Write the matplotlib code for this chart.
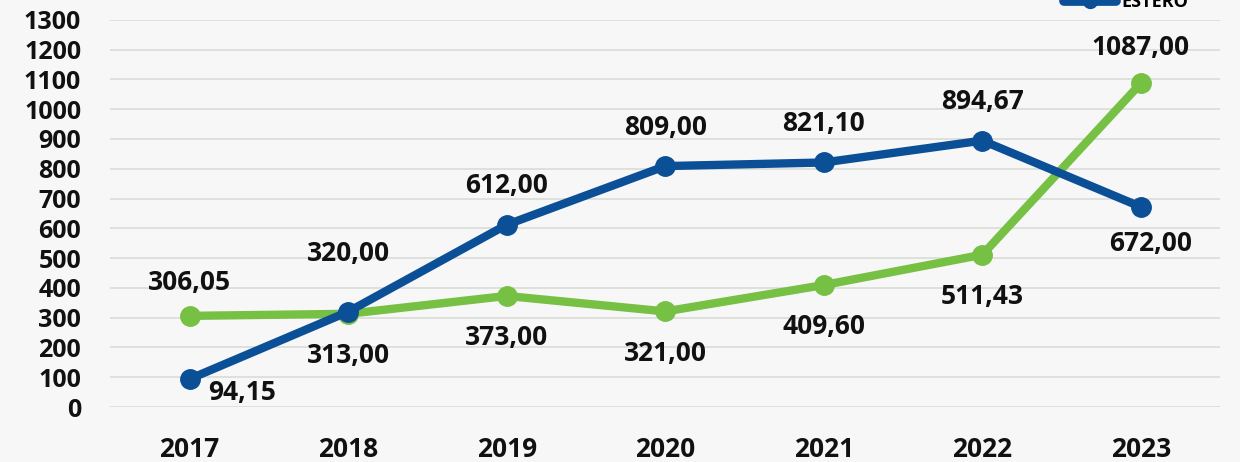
import matplotlib.pyplot as plt
from matplotlib.lines import Line2D

plt.rcParams['font.family'] = ['Open Sans', 'DejaVu Sans']
plt.rcParams['font.weight'] = 'bold'

years = ['2017', '2018', '2019', '2020', '2021', '2022', '2023']
green_vals = [306.05, 313.00, 373.00, 321.00, 409.60, 511.43, 1087.00]
blue_vals = [94.15, 320.00, 612.00, 809.00, 821.10, 894.67, 672.00]
y_ticks = list(range(0, 1301, 100))

BLUE = '#0b4f97'
GREEN = '#76c043'
BG = '#f7f7f7'


def fmt(v):
    return f"{v:.2f}".replace('.', ',')


fig = plt.figure(figsize=(12.4, 4.62), dpi=100, facecolor=BG)
ax = fig.add_axes([0.089, 0.119, 0.895, 0.838])
ax.set_facecolor(BG)

x = list(range(len(years)))
ax.plot(x, green_vals, color=GREEN, lw=6, marker='o', ms=14, solid_capstyle='round', zorder=3)
ax.plot(x, blue_vals, color=BLUE, lw=6, marker='o', ms=14, solid_capstyle='round', zorder=4)

# label offsets in points (dx, dy)
green_off = [(0, 24), (0, -30), (0, -30), (0, -30), (0, -30), (0, -30), (0, 26)]
blue_off = [(38, -10), (0, 42), (0, 28), (0, 28), (0, 28), (0, 28), (7, -26)]

for i in x:
    ax.annotate(fmt(green_vals[i]), (i, green_vals[i]), xytext=green_off[i], textcoords='offset points',
                ha='center', va='center', fontsize=19, fontweight='bold', color='#111111', zorder=5)
    ax.annotate(fmt(blue_vals[i]), (i, blue_vals[i]), xytext=blue_off[i], textcoords='offset points',
                ha='center', va='center', fontsize=19, fontweight='bold', color='#111111', zorder=5)

ax.set_xlim(-0.5, len(years) - 0.5)
ax.set_ylim(0, 1300)
ax.set_yticks(y_ticks)
ax.set_xticks(x)
ax.set_xticklabels(years)
ax.tick_params(axis='y', length=0, labelsize=18, colors='#111111', pad=21)
ax.tick_params(axis='x', length=0, labelsize=19, colors='#111111', pad=21)
for t in ax.get_xticklabels() + ax.get_yticklabels():
    t.set_fontweight('bold')
ax.grid(axis='y', color='#dcdfd8', lw=1.3)
ax.set_axisbelow(True)
for s in ax.spines.values():
    s.set_visible(False)

# legend, cut off by top edge as in the reference
handles = [Line2D([], [], color=BLUE, lw=7, marker='o', ms=10, solid_capstyle='round')]
fig.legend(handles, ['ESTERO'], loc='center left', bbox_to_anchor=(1064 / 1240, 0.9957),
           frameon=False, handlelength=2.9, handletextpad=0.3, borderaxespad=0, borderpad=0,
           prop={'weight': 'bold', 'size': 13})

fig.savefig('out.png', dpi=100, facecolor=BG)
